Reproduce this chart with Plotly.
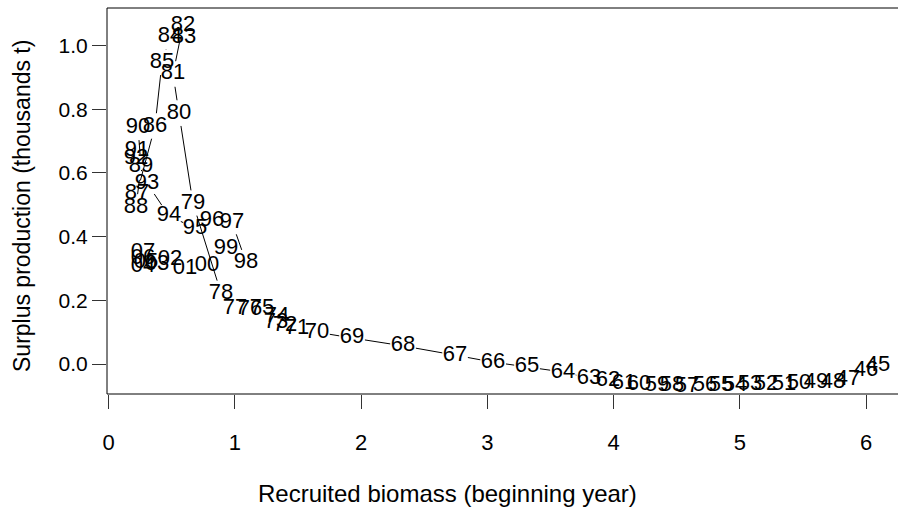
import math
import plotly.graph_objects as go

# Year labels (two-digit), recruited biomass at start of year, surplus production
years = ["45", "46", "47", "48", "49", "50", "51", "52", "53", "54",
         "55", "56", "57", "58", "59", "60", "61", "62", "63", "64",
         "65", "66", "67", "68", "69", "70", "71", "72", "73", "74",
         "75", "76", "77", "78", "79", "80", "81", "82", "83", "84",
         "85", "86", "87", "88", "89", "90", "91", "92", "93", "94",
         "95", "96", "97", "98", "99", "00", "01", "02", "03", "04",
         "05", "06", "07"]
biomass = [6.095, 6.000, 5.857, 5.739, 5.604, 5.469, 5.350, 5.208, 5.081, 4.962,
           4.851, 4.725, 4.582, 4.463, 4.344, 4.202, 4.083, 3.956, 3.806, 3.600,
           3.315, 3.046, 2.745, 2.333, 1.929, 1.651, 1.493, 1.398, 1.327, 1.335,
           1.216, 1.121, 1.002, 0.891, 0.669, 0.558, 0.511, 0.590, 0.598, 0.487,
           0.424, 0.368, 0.226, 0.218, 0.257, 0.234, 0.226, 0.218, 0.305, 0.479,
           0.685, 0.820, 0.978, 1.089, 0.931, 0.780, 0.606, 0.487, 0.384, 0.273,
           0.297, 0.273, 0.273]
surplus = [-0.006, -0.019, -0.047, -0.057, -0.057, -0.060, -0.063, -0.063, -0.063, -0.066,
           -0.066, -0.066, -0.069, -0.066, -0.066, -0.063, -0.060, -0.053, -0.044, -0.025,
           -0.009, 0.006, 0.028, 0.057, 0.082, 0.100, 0.113, 0.122, 0.132, 0.148,
           0.176, 0.170, 0.176, 0.223, 0.505, 0.788, 0.911, 1.064, 1.024, 1.027,
           0.948, 0.747, 0.537, 0.493, 0.619, 0.744, 0.672, 0.647, 0.568, 0.465,
           0.427, 0.452, 0.446, 0.320, 0.364, 0.311, 0.301, 0.327, 0.314, 0.305,
           0.320, 0.333, 0.349]

x_ticks = [0, 1, 2, 3, 4, 5, 6]
y_ticks = [0.0, 0.2, 0.4, 0.6, 0.8, 1.0]
y_tick_text = ["0.0", "0.2", "0.4", "0.6", "0.8", "1.0"]

W, H = 898, 508
M_L, M_R, M_T, M_B = 107, 0, 8, 114
X_RANGE = [-0.012, 6.253]
Y_RANGE = [-0.094, 1.118]
FONT = "Liberation Sans, Arial, Helvetica, sans-serif"
FS = 22

plot_w = W - M_L - M_R
plot_h = H - M_T - M_B
sx = plot_w / (X_RANGE[1] - X_RANGE[0])
sy = plot_h / (Y_RANGE[1] - Y_RANGE[0])

# Connecting line in "c" style: each segment is trimmed near the labels
gap = 13.0  # px radius left clear around each label
seg_x, seg_y = [], []
for i in range(1, len(biomass)):
    x0, y0 = biomass[i - 1], surplus[i - 1]
    x1, y1 = biomass[i], surplus[i]
    dxp = (x1 - x0) * sx
    dyp = (y1 - y0) * sy
    d = math.hypot(dxp, dyp)
    if d <= 2 * gap:
        continue
    f = gap / d
    seg_x += [x0 + f * (x1 - x0), x1 - f * (x1 - x0), None]
    seg_y += [y0 + f * (y1 - y0), y1 - f * (y1 - y0), None]

fig = go.Figure()
fig.add_trace(go.Scatter(
    x=seg_x, y=seg_y, mode="lines",
    line=dict(color="black", width=1),
    hoverinfo="skip", showlegend=False,
))
fig.add_trace(go.Scatter(
    x=biomass, y=surplus, mode="text", text=years,
    textposition="middle center",
    textfont=dict(family=FONT, size=FS, color="black"),
    showlegend=False,
))

frame = dict(type="line", xref="paper", yref="paper",
             line=dict(color="black", width=1))
shapes = [
    dict(frame, x0=0, x1=1, y0=1, y1=1),
    dict(frame, x0=0, x1=1, y0=0, y1=0),
    dict(frame, x0=0, x1=0, y0=0, y1=1),
]

fig.update_layout(
    width=W, height=H,
    margin=dict(l=M_L, r=M_R, t=M_T, b=M_B, pad=0),
    paper_bgcolor="white", plot_bgcolor="white",
    font=dict(family=FONT, size=FS, color="black"),
    shapes=shapes,
    xaxis=dict(
        range=X_RANGE, tickvals=x_ticks, ticktext=[str(v) for v in x_ticks],
        ticks="outside", ticklen=14, tickwidth=1, tickcolor="#333",
        showgrid=False, zeroline=False, showline=False,
        ticklabelstandoff=15,
        tickfont=dict(family=FONT, size=FS, color="black"),
    ),
    yaxis=dict(
        range=Y_RANGE, tickvals=y_ticks, ticktext=y_tick_text,
        ticks="outside", ticklen=14, tickwidth=1, tickcolor="#333",
        showgrid=False, zeroline=False, showline=False,
        ticklabelstandoff=0,
        tickfont=dict(family=FONT, size=21, color="black"),
    ),
    annotations=[
        dict(text="Recruited biomass (beginning year)", xref="paper", yref="paper",
             x=(447 - M_L) / plot_w, y=-(493 - M_T - plot_h) / plot_h,
             showarrow=False, xanchor="center", yanchor="middle",
             font=dict(family=FONT, size=24, color="black")),
        dict(text="Surplus production (thousands t)", xref="paper", yref="paper",
             x=-(M_L - 22) / plot_w, y=(H - M_B - 206) / plot_h,
             showarrow=False, xanchor="center", yanchor="middle", textangle=-90,
             font=dict(family=FONT, size=23, color="black")),
    ],
)

fig.write_html("out.html")
